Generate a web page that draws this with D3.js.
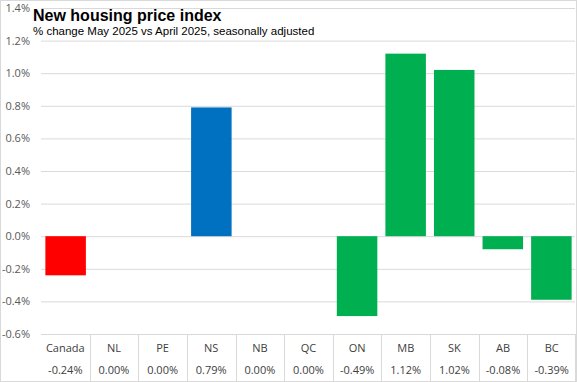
<!DOCTYPE html>
<html>
<head>
<meta charset="utf-8">
<script src="https://cdn.jsdelivr.net/npm/d3@7"></script>
<style>
  body { margin: 0; background: #fff; }
  svg text { font-family: "Open Sans", "Noto Sans", sans-serif; }
</style>
</head>
<body>
<div id="chart"></div>
<script>
const regions = ["Canada", "NL", "PE", "NS", "NB", "QC", "ON", "MB", "SK", "AB", "BC"];
const changes = [-0.24, 0.0, 0.0, 0.79, 0.0, 0.0, -0.49, 1.12, 1.02, -0.08, -0.39];
const yTicks = [-0.6, -0.4, -0.2, 0, 0.2, 0.4, 0.6, 0.8, 1.0, 1.2, 1.4];
const barColors = { Canada: "#ff0000", NS: "#0070c0" };

const width = 577, height = 382;
const plot = { left: 41, right: 576, top: 8, bottom: 334 };
const tableBottom = 381;
const pct = (v, n) => v.toFixed(n) + "%";

const svg = d3
  .select("#chart")
  .append("svg")
  .attr("width", width)
  .attr("height", height)
  .attr("viewBox", [0, 0, width, height]);

svg.append("rect")
  .attr("x", 0.5).attr("y", 0.5)
  .attr("width", width - 1).attr("height", height - 1)
  .attr("fill", "#fff")
  .attr("stroke", "#d9d9d9");

const x = d3.scaleBand().domain(regions).range([plot.left, plot.right]).paddingInner(0.166).paddingOuter(0.09);
const xCell = d3.scaleBand().domain(regions).range([plot.left, plot.right]);
const y = d3.scaleLinear().domain([-0.6, 1.4]).range([plot.bottom, plot.top]);

// gridlines + tick labels
const yAxis = svg.append("g")
  .attr("transform", `translate(${plot.left},0)`)
  .call(d3.axisLeft(y).tickValues(yTicks).tickSize(-(plot.right - 1 - plot.left)).tickPadding(11)
    .tickFormat((d) => pct(d, 1)));
yAxis.select(".domain").remove();
yAxis.selectAll(".tick line").attr("stroke", "#d9d9d9");
yAxis.selectAll(".tick text").attr("fill", "#595959").style("font-size", "11px");

// bars
const data = regions.map((r, i) => ({ region: r, value: changes[i] }));
svg.append("g")
  .selectAll("rect")
  .data(data.filter((d) => d.value !== 0))
  .join("rect")
  .attr("x", (d) => x(d.region))
  .attr("width", x.bandwidth())
  .attr("y", (d) => y(Math.max(0, d.value)))
  .attr("height", (d) => Math.abs(y(d.value) - y(0)))
  .attr("fill", (d) => barColors[d.region] || "#00b050");

// data table
const table = svg.append("g");
table.selectAll("line.sep")
  .data(regions.slice(1))
  .join("line")
  .attr("class", "sep")
  .attr("x1", (d) => Math.round(xCell(d)) + 0.5)
  .attr("x2", (d) => Math.round(xCell(d)) + 0.5)
  .attr("y1", plot.bottom)
  .attr("y2", tableBottom)
  .attr("stroke", "#d9d9d9");
table.append("line")
  .attr("x1", plot.right - 0.5).attr("x2", plot.right - 0.5)
  .attr("y1", plot.bottom).attr("y2", tableBottom)
  .attr("stroke", "#d9d9d9");

table.selectAll("text.cat")
  .data(data)
  .join("text")
  .attr("class", "cat")
  .attr("x", (d) => xCell(d.region) + xCell.bandwidth() / 2)
  .attr("y", 352)
  .attr("text-anchor", "middle")
  .attr("fill", "#404040")
  .style("font-size", "11px")
  .text((d) => d.region);

table.selectAll("text.val")
  .data(data)
  .join("text")
  .attr("class", "val")
  .attr("x", (d) => xCell(d.region) + xCell.bandwidth() / 2)
  .attr("y", 374)
  .attr("text-anchor", "middle")
  .attr("fill", "#404040")
  .style("font-size", "11px")
  .text((d) => pct(d.value, 2));

// title
svg.append("text")
  .attr("x", 33).attr("y", 21)
  .attr("fill", "#000")
  .style("font-family", "'Liberation Sans', Arial, sans-serif")
  .style("font-size", "16px")
  .style("font-weight", "bold")
  .text("New housing price index");
svg.append("text")
  .attr("x", 33).attr("y", 35)
  .attr("fill", "#000")
  .style("font-family", "'Liberation Sans', Arial, sans-serif")
  .style("font-size", "11.5px")
  .text("% change May  2025 vs April 2025, seasonally adjusted");
</script>
</body>
</html>
